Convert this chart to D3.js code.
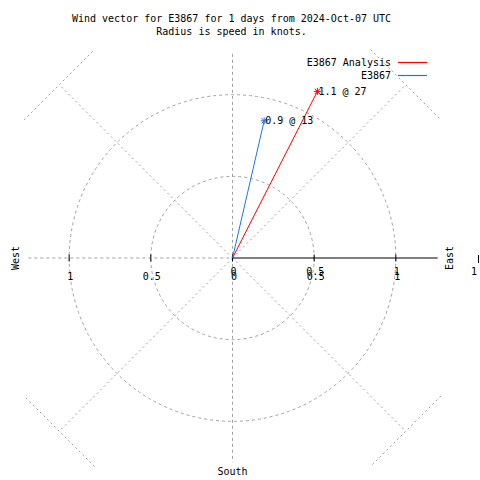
<!DOCTYPE html>
<html><head><meta charset="utf-8">
<script src="https://cdn.jsdelivr.net/npm/d3@7"></script>
<style>
body{margin:0;background:#fff;}
text{font-family:"DejaVu Sans Mono",monospace;font-size:10px;fill:#000;}
</style></head>
<body><svg id="c" width="480" height="480"></svg>
<script>
const titleLines = ["Wind vector for E3867 for 1 days from 2024-Oct-07 UTC", "Radius is speed in knots."];
const seriesNames = ["E3867 Analysis", "E3867"];
const seriesColors = ["#ff0000", "#1a78e6"];
const speeds = [1.145, 0.862];      // knots
const directions = [27, 13];        // degrees from north
const ringValues = [0.5, 1];
const spokeAngles = [45, 135, 225, 315];
const westTicks = [1, 0.5];
const eastTicks = [0, 0.5, 1];

const svg = d3.select("#c");
const cx = 232.5, cy = 258;
const r = d3.scaleLinear().domain([0, 1.5]).range([0, 245]);
const axisMax = 1.25, outer = 1.5, tangentHalf = 0.305;
const gray = "#a0a0a0";
const pt = (spd, deg) => [cx + r(spd) * Math.sin(deg * Math.PI / 180), cy - r(spd) * Math.cos(deg * Math.PI / 180)];

// title
svg.selectAll("text.title").data(titleLines).join("text").attr("class", "title")
  .attr("x", 231.5).attr("y", (d, i) => 22 + i * 13).attr("text-anchor", "middle").text(d => d);

const g = svg.append("g");
// rings
g.selectAll("circle.ring").data(ringValues).join("circle").attr("class", "ring")
  .attr("cx", cx).attr("cy", cy).attr("r", d => r(d))
  .attr("fill", "none").attr("stroke", gray).attr("stroke-dasharray", "3,3");
// spokes + tangent segments
spokeAngles.forEach(a => {
  const e = pt(outer, a);
  g.append("line").attr("x1", cx).attr("y1", cy).attr("x2", e[0]).attr("y2", e[1])
    .attr("stroke", gray).attr("stroke-dasharray", "2,3");
  const rad = a * Math.PI / 180;
  const tx = Math.cos(rad) * r(tangentHalf), ty = Math.sin(rad) * r(tangentHalf);
  g.append("line").attr("x1", e[0] - tx).attr("y1", e[1] - ty).attr("x2", e[0] + tx).attr("y2", e[1] + ty)
    .attr("stroke", gray).attr("stroke-dasharray", "2,3");
});
// axes
g.append("line").attr("x1", cx).attr("y1", cy - r(axisMax)).attr("x2", cx).attr("y2", cy + r(axisMax))
  .attr("stroke", gray).attr("stroke-dasharray", "3,3");
g.append("line").attr("x1", cx - r(axisMax)).attr("y1", cy).attr("x2", cx).attr("y2", cy)
  .attr("stroke", gray).attr("stroke-dasharray", "3,3");
g.append("line").attr("x1", cx).attr("y1", cy).attr("x2", cx + r(axisMax) + 1).attr("y2", cy)
  .attr("stroke", "#000").attr("stroke-width", 1.2);

// ticks & labels
const allTicks = westTicks.map(v => -v).concat(eastTicks);
g.selectAll("line.tick").data(allTicks).join("line").attr("class", "tick")
  .attr("x1", d => cx + Math.sign(d) * r(Math.abs(d))).attr("x2", d => cx + Math.sign(d) * r(Math.abs(d)))
  .attr("y1", cy - 3.5).attr("y2", cy + 3.5).attr("stroke", "#000");
g.selectAll("text.wt").data(westTicks).join("text").attr("class", "wt")
  .attr("x", d => cx - r(d) + 1).attr("y", 280).attr("text-anchor", "middle").text(d => d);
[275, 280].forEach((y, k) => {
  g.selectAll("text.et" + k).data(eastTicks).join("text").attr("class", "et" + k)
    .attr("x", d => cx + r(d) + 1 + (k ? 0.5 : 0)).attr("y", y).attr("text-anchor", "middle").text(d => d);
});
// odd right-edge scale mark
g.append("line").attr("x1", 478.5).attr("x2", 478.5).attr("y1", 255).attr("y2", 263).attr("stroke", "#000");
g.append("text").attr("x", 474).attr("y", 275).attr("text-anchor", "middle").text("1");

// direction labels
svg.append("text").attr("transform", "translate(19,258) rotate(-90)").attr("text-anchor", "middle").text("West");
svg.append("text").attr("transform", "translate(453,258) rotate(-90)").attr("text-anchor", "middle").text("East");
svg.append("text").attr("x", cx).attr("y", 475).attr("text-anchor", "middle").text("South");

// vectors
const vec = speeds.map((s, i) => ({s, d: directions[i], c: seriesColors[i]}));
const star = 3.5;
vec.forEach(v => {
  const e = pt(v.s, v.d);
  svg.append("line").attr("x1", cx).attr("y1", cy).attr("x2", e[0]).attr("y2", e[1]).attr("stroke", v.c);
  const p = `M${e[0]-star},${e[1]}H${e[0]+star}M${e[0]},${e[1]-star}V${e[1]+star}` +
    `M${e[0]-star*0.75},${e[1]-star*0.75}L${e[0]+star*0.75},${e[1]+star*0.75}` +
    `M${e[0]-star*0.75},${e[1]+star*0.75}L${e[0]+star*0.75},${e[1]-star*0.75}`;
  svg.append("path").attr("d", p).attr("stroke", v.c).attr("fill", "none");
  svg.append("text").attr("x", e[0] + 1).attr("y", e[1] + 3.5).text(`${v.s.toFixed(1)} @ ${v.d}`);
});

// legend
seriesNames.forEach((n, i) => {
  const y = 66 + i * 13;
  svg.append("text").attr("x", 391).attr("y", y).attr("text-anchor", "end").text(n);
  svg.append("line").attr("x1", 398).attr("x2", 427).attr("y1", y - 3.5).attr("y2", y - 3.5)
    .attr("stroke", seriesColors[i]).attr("stroke-width", 1.2);
});
</script></body></html>
